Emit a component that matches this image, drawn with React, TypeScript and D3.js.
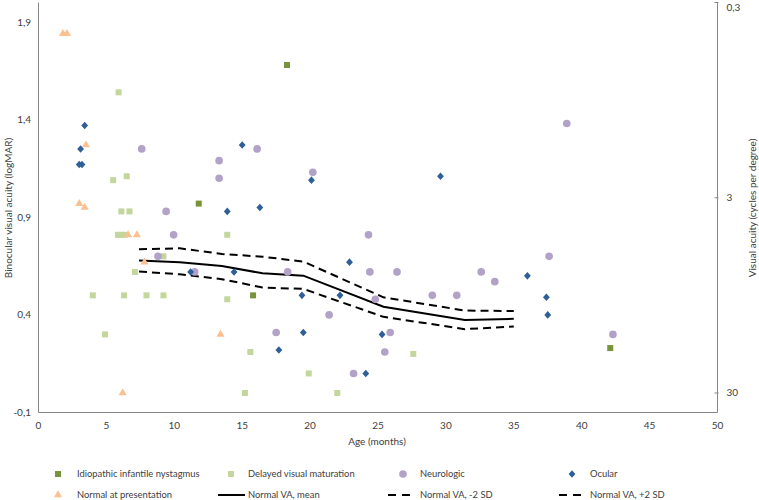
import React from "react";
import * as d3 from "d3";

type Pt = [number, number];

// Age (months), logMAR
const idiopathic: Pt[] = [[11.8, 0.97], [18.3, 1.68], [15.8, 0.50], [42.1, 0.23]];
const delayed: Pt[] = [
  [5.9, 1.54], [5.5, 1.09], [6.5, 1.11], [6.1, 0.93], [6.7, 0.93], [5.85, 0.81], [6.1, 0.81],
  [6.35, 0.81], [13.9, 0.81], [9.2, 0.70], [7.1, 0.62], [4.0, 0.50], [6.3, 0.50], [7.95, 0.50],
  [9.2, 0.50], [13.9, 0.48], [4.9, 0.30], [15.6, 0.21], [27.6, 0.20], [19.9, 0.10], [15.2, 0.0], [22.0, 0.0],
];
const neurologic: Pt[] = [
  [7.6, 1.25], [13.3, 1.19], [13.3, 1.10], [16.1, 1.25], [9.4, 0.93], [9.95, 0.81], [20.2, 1.13],
  [24.3, 0.81], [8.8, 0.70], [11.5, 0.62], [18.35, 0.62], [24.4, 0.62], [26.4, 0.62], [32.6, 0.62],
  [33.6, 0.57], [37.6, 0.70], [24.8, 0.48], [29.0, 0.50], [30.8, 0.50], [21.4, 0.40], [17.5, 0.31],
  [25.9, 0.31], [25.5, 0.21], [23.2, 0.10], [38.9, 1.38], [42.3, 0.30],
];
const ocular: Pt[] = [
  [3.4, 1.37], [3.1, 1.25], [3.0, 1.17], [3.2, 1.17], [15.0, 1.27], [13.9, 0.93], [16.3, 0.95],
  [20.1, 1.09], [29.6, 1.11], [11.2, 0.62], [14.4, 0.62], [22.9, 0.67], [19.4, 0.50], [22.2, 0.50],
  [19.5, 0.31], [25.3, 0.30], [17.7, 0.22], [24.1, 0.10], [36.0, 0.60], [37.4, 0.49], [37.5, 0.40],
];
const normalPresentation: Pt[] = [
  [1.8, 1.84], [2.1, 1.84], [3.5, 1.27], [3.0, 0.97], [3.4, 0.95], [6.6, 0.81], [7.25, 0.81],
  [7.8, 0.67], [13.4, 0.30], [6.2, 0.0],
];

const normAges = [7.4, 10.4, 13.5, 16.5, 19.5, 25.4, 31.4, 35.0];
const normMean = [0.678, 0.670, 0.650, 0.613, 0.601, 0.442, 0.374, 0.380];
const normMinus2 = [0.736, 0.741, 0.712, 0.698, 0.673, 0.490, 0.422, 0.420];
const normPlus2 = [0.622, 0.608, 0.583, 0.540, 0.533, 0.390, 0.327, 0.340];

const xTicks = [0, 5, 10, 15, 20, 25, 30, 35, 40, 45, 50];
const yTicks = [-0.1, 0.4, 0.9, 1.4, 1.9];
const cpdTicks = [0.3, 3, 30];

const FONT = "Lato, 'Open Sans', sans-serif";
const C_IIN = "#77933c";
const C_DVM = "#c3d69b";
const C_NEU = "#b3a2c7";
const C_OCU = "#2f5f98";
const C_NOR = "#fac090";
const AXIS = "#868686";
const TXT = "#404040";

export default function App() {
  const W = 759, H = 500;
  const x = d3.scaleLinear().domain([0, 50]).range([38.5, 717.5]);
  const y = d3.scaleLinear().domain([-0.1, 2.0]).range([412.5, 2.5]);
  // cycles per degree: logMAR = log10(30 / cpd)
  const yr = d3.scaleLog().domain([30 / Math.pow(10, -0.1), 30 / Math.pow(10, 2.0)]).range([412.5, 2.5]);

  const sq = d3.symbol().type(d3.symbolSquare).size(36)()!;
  const circ = d3.symbol().type(d3.symbolCircle).size(46)()!;
  const dia = "M0,-3.8L3.4,0L0,3.8L-3.4,0Z";
  const tri = d3.symbol().type(d3.symbolTriangle).size(28)()!;

  const line = d3
    .line<number>()
    .x((_, i) => x(normAges[i]))
    .y((d) => y(d));

  const dots = (data: Pt[], path: string, fill: string, key: string) =>
    data.map((d, i) => (
      <path key={key + i} d={path} transform={`translate(${x(d[0])},${y(d[1])})`} fill={fill} />
    ));

  const legendCols = [58, 231, 403, 572];
  const r1 = 474, r2 = 495;

  return (
    <svg width={W} height={H} style={{ position: "absolute", left: 0, top: 0 }} fontFamily={FONT}>
      <rect width={W} height={H} fill="#fff" />
      {/* axes */}
      <line x1={x(0)} x2={x(0)} y1={y(2.0)} y2={y(-0.1)} stroke={AXIS} strokeWidth={1} />
      <line x1={x(0)} x2={x(50)} y1={y(-0.1)} y2={y(-0.1)} stroke={AXIS} strokeWidth={1} />
      <line x1={x(50)} x2={x(50)} y1={y(2.0)} y2={y(-0.1)} stroke={AXIS} strokeWidth={1} />
      {cpdTicks.map((t) => (
        <g key={"r" + t}>
          <line x1={x(50) - 3} x2={x(50) + 1} y1={yr(t)} y2={yr(t)} stroke={AXIS} />
          <text x={x(50) + 9} y={Math.max(yr(t), 7)} dy="0.35em" fontSize={10} fill={TXT}>
            {String(t).replace(".", ",")}
          </text>
        </g>
      ))}
      {yTicks.map((t) => (
        <text key={"y" + t} x={31} y={y(t)} dy="0.35em" textAnchor="end" fontSize={10} fill={TXT}>
          {t.toFixed(1).replace(".", ",")}
        </text>
      ))}
      {xTicks.map((t) => (
        <text key={"x" + t} x={x(t)} y={425} dy="0.35em" textAnchor="middle" fontSize={10} fill={TXT}>
          {t}
        </text>
      ))}
      <text x={377} y={441} dy="0.35em" textAnchor="middle" fontSize={10} fill={TXT}>
        Age (months)
      </text>
      <text transform={`translate(8,208) rotate(-90)`} dy="0.35em" textAnchor="middle" fontSize={10} fill={TXT}>
        Binocular visual acuity (logMAR)
      </text>
      <text transform={`translate(752,208) rotate(-90)`} dy="0.35em" textAnchor="middle" fontSize={10} fill={TXT}>
        Visual acuity (cycles per degree)
      </text>

      {/* normative lines */}
      <path d={line(normMean)!} fill="none" stroke="#000" strokeWidth={2} />
      <path d={line(normMinus2)!} fill="none" stroke="#000" strokeWidth={2} strokeDasharray="8,5" />
      <path d={line(normPlus2)!} fill="none" stroke="#000" strokeWidth={2} strokeDasharray="8,5" />

      {/* points */}
      {dots(delayed, sq, C_DVM, "d")}
      {dots(neurologic, circ, C_NEU, "n")}
      {dots(normalPresentation, tri, C_NOR, "p")}
      {dots(ocular, dia, C_OCU, "o")}
      {dots(idiopathic, sq, C_IIN, "i")}

      {/* legend */}
      <g fontSize={9.4} fill={TXT}>
        <path d={sq} transform={`translate(${legendCols[0]},${r1})`} fill={C_IIN} />
        <text x={legendCols[0] + 19} y={r1} dy="0.35em">Idiopathic infantile nystagmus</text>
        <path d={sq} transform={`translate(${legendCols[1]},${r1})`} fill={C_DVM} />
        <text x={legendCols[1] + 17} y={r1} dy="0.35em">Delayed visual maturation</text>
        <path d={circ} transform={`translate(${legendCols[2]},${r1})`} fill={C_NEU} />
        <text x={legendCols[2] + 17} y={r1} dy="0.35em">Neurologic</text>
        <path d={dia} transform={`translate(${legendCols[3]},${r1})`} fill={C_OCU} />
        <text x={legendCols[3] + 18} y={r1} dy="0.35em">Ocular</text>

        <path d={tri} transform={`translate(${legendCols[0]},${r2})`} fill={C_NOR} />
        <text x={legendCols[0] + 19} y={r2} dy="0.35em">Normal at presentation</text>
        <line x1={legendCols[1] - 13} x2={legendCols[1] + 14} y1={r2} y2={r2} stroke="#000" strokeWidth={2} />
        <text x={legendCols[1] + 17} y={r2} dy="0.35em">Normal VA, mean</text>
        <line x1={legendCols[2] - 15} x2={legendCols[2] + 12} y1={r2} y2={r2} stroke="#000" strokeWidth={2} strokeDasharray="8,6" />
        <text x={legendCols[2] + 17} y={r2} dy="0.35em">Normal VA, -2 SD</text>
        <line x1={legendCols[3] - 13} x2={legendCols[3] + 14} y1={r2} y2={r2} stroke="#000" strokeWidth={2} strokeDasharray="8,6" />
        <text x={legendCols[3] + 18} y={r2} dy="0.35em">Normal VA, +2 SD</text>
      </g>
    </svg>
  );
}
